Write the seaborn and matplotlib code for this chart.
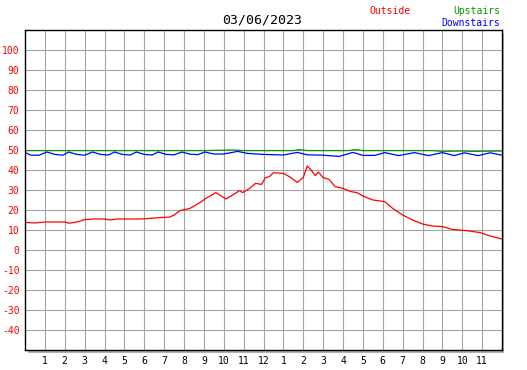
import numpy as np
import pandas as pd
import matplotlib
matplotlib.use('Agg')
import matplotlib.pyplot as plt
from matplotlib.patches import Rectangle
import seaborn as sns

# outside temperature (hour of day, value)
out_hours = [0, 0.5, 1.0, 1.5, 2.0, 2.2, 2.5, 2.8, 3.0, 3.5, 4.0, 4.3, 4.6, 5.0, 5.5, 6.0, 6.5, 7.0,
             7.3, 7.5, 7.8, 8.3, 8.8, 9.1, 9.6, 9.8, 10.1, 10.4, 10.8, 10.95, 11.3, 11.6, 11.9,
             12.1, 12.3, 12.5, 12.7, 13.0, 13.3, 13.7, 14.0, 14.2, 14.4, 14.6, 14.75, 15.0,
             15.3, 15.6, 16.0, 16.4, 16.7, 17.0, 17.5, 18.1, 18.5, 19.0, 19.5, 20.0, 20.5,
             21.0, 21.5, 22.2, 22.9, 23.4, 24.0]
outside = [13.8, 13.5, 14.0, 14.0, 14.0, 13.4, 13.8, 14.5, 15.2, 15.5, 15.5, 15.0, 15.5, 15.5,
           15.5, 15.6, 16.0, 16.3, 16.5, 17.5, 19.7, 20.8, 23.7, 25.8, 28.7, 27.5, 25.5, 27.2,
           29.7, 28.7, 30.8, 33.3, 32.8, 36.2, 36.7, 38.7, 38.5, 38.3, 36.7, 33.8, 36.2, 42.0,
           40.0, 37.2, 39.0, 36.2, 35.3, 31.7, 30.8, 29.2, 28.7, 27.0, 25.0, 24.2, 20.8, 17.5,
           15.0, 13.0, 12.0, 11.7, 10.3, 9.7, 8.7, 7.0, 5.5]

up_hours = [0, 9.0, 10.5, 11.0, 13.5, 13.8, 14.2, 16.3, 16.6, 17.0, 20.5, 21.0, 22.0, 22.5, 24.0]
upstairs = [49.7, 49.7, 50.0, 49.7, 49.7, 50.2, 49.7, 49.7, 50.2, 49.7, 49.7, 49.3, 49.5, 49.3, 49.5]

down_hours = [0, 0.3, 0.7, 1.1, 1.5, 1.9, 2.2, 2.6, 3.0, 3.4, 3.8, 4.2, 4.5, 4.9, 5.3, 5.6, 6.0,
              6.4, 6.7, 7.1, 7.5, 7.9, 8.3, 8.7, 9.05, 9.5, 10.0, 10.7, 11.2, 12.0, 13.0, 13.7,
              14.2, 15.0, 15.8, 16.5, 17.0, 17.6, 18.1, 18.8, 19.6, 20.3, 21.0, 21.6, 22.1,
              22.8, 23.4, 24.0]
downstairs = [48.8, 47.4, 47.4, 49.0, 47.8, 47.4, 49.0, 47.8, 47.4, 49.0, 47.8, 47.5, 49.0, 47.8,
              47.5, 49.0, 47.8, 47.5, 49.0, 47.8, 47.6, 49.0, 47.9, 47.7, 49.0, 48.0, 48.0, 49.3,
              48.3, 47.8, 47.5, 48.8, 47.6, 47.4, 46.8, 48.8, 47.3, 47.3, 48.7, 47.2, 48.7, 47.2,
              48.7, 47.2, 48.6, 47.2, 48.6, 47.4]

hour_labels = [str(h) for h in list(range(1, 13)) + list(range(1, 12))]
ytick_vals = list(range(-40, 101, 10))

df = pd.concat([
    pd.DataFrame({'hour': out_hours, 'temp': outside, 'sensor': 'Outside'}),
    pd.DataFrame({'hour': up_hours, 'temp': upstairs, 'sensor': 'Upstairs'}),
    pd.DataFrame({'hour': down_hours, 'temp': downstairs, 'sensor': 'Downstairs'}),
])

sns.set_style('white')
plt.rcParams['font.family'] = ['DejaVu Sans Mono']

fig = plt.figure(figsize=(5.27, 3.70), dpi=100)
L, B, W, H = 25 / 527, 20 / 370, 477 / 527, 320 / 370
# drop shadow behind the plot box
fig.patches.append(Rectangle((L + 2.5 / 527, B - 2.5 / 370), W, H, transform=fig.transFigure,
                             facecolor='#b0b0b0', edgecolor='none', zorder=-5))
ax = fig.add_axes([L, B, W, H], zorder=2)
ax.set_facecolor('white')

palette = {'Outside': '#ff0000', 'Upstairs': '#009900', 'Downstairs': '#0000ff'}
sns.lineplot(data=df, x='hour', y='temp', hue='sensor', palette=palette, ax=ax,
             linewidth=0.9, legend=False, estimator=None, sort=False)

ax.set_xlim(0, 24)
ax.set_ylim(-50, 110)
ax.set_xticks(range(1, 24))
ax.set_xticklabels(hour_labels)
ax.set_yticks(ytick_vals)
ax.set_yticklabels([str(v) for v in ytick_vals], color='#ff0000')
ax.grid(True, color='#a4a4a4', linewidth=0.8)
ax.set_axisbelow(True)
ax.tick_params(axis='both', direction='in', length=4, width=0.8, color='black',
               labelsize=7, pad=4)
ax.tick_params(axis='x', labelcolor='black')
for s in ax.spines.values():
    s.set_color('black')
    s.set_linewidth(1.0)
ax.set_xlabel('')
ax.set_ylabel('')

fig.text(262 / 527, 1 - 20 / 370, '03/06/2023', ha='center', va='center', fontsize=9.5,
         color='black')
fig.text(390 / 527, 1 - 11 / 370, 'Outside', ha='center', va='center', fontsize=7, color='#ff0000')
fig.text(500 / 527, 1 - 11 / 370, 'Upstairs', ha='right', va='center', fontsize=7, color='#009900')
fig.text(500 / 527, 1 - 23 / 370, 'Downstairs', ha='right', va='center', fontsize=7, color='#0000ff')

fig.savefig('out.png', dpi=100, facecolor='white')
